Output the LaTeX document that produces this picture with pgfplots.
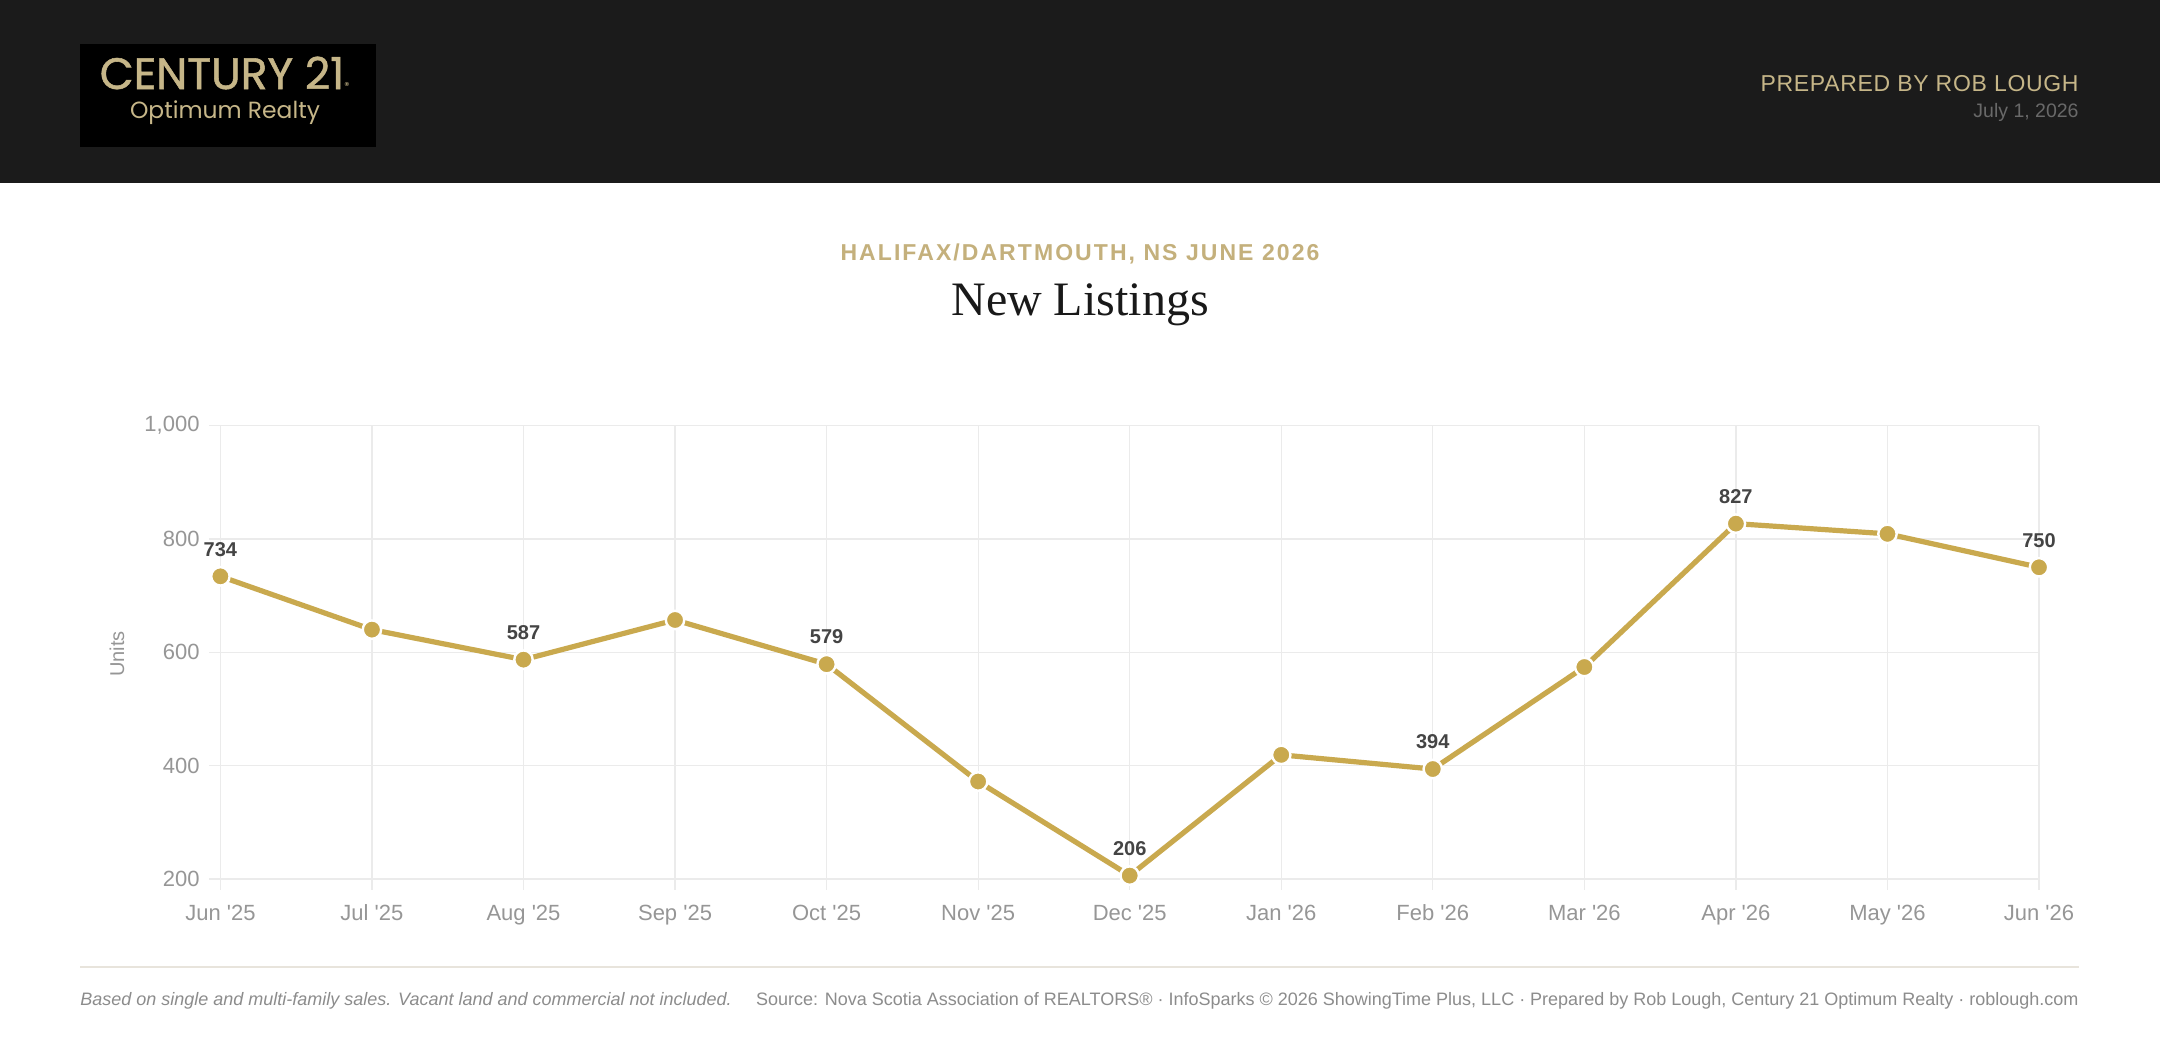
\documentclass[border=0pt]{standalone}
\usepackage{fontspec}
\usepackage{pgfplots}
\pgfplotsset{compat=1.18}
\setmainfont{Liberation Sans}
\newfontfamily\seriffont{Liberation Serif}
\newfontfamily\logofont{Poppins}
\newfontfamily\logofontb[FakeBold=1.2]{Poppins}
\newfontfamily\spacedfont[LetterSpace=9]{Liberation Sans}
\newfontfamily\prepfont[LetterSpace=3]{Liberation Sans}
\definecolor{headerbg}{RGB}{27,27,27}
\definecolor{tan}{RGB}{198,182,136}
\definecolor{subtan}{RGB}{196,176,124}
\definecolor{gold}{RGB}{201,169,78}
\definecolor{gridgray}{RGB}{235,235,235}
\definecolor{tickgray}{RGB}{150,150,150}
\definecolor{labelgray}{RGB}{68,68,68}
\definecolor{footgray}{RGB}{140,140,140}
\definecolor{rulecol}{RGB}{232,228,220}
\definecolor{dategray}{RGB}{105,105,105}
\begin{document}
\begin{tikzpicture}
\useasboundingbox (0,0) rectangle (1080pt,524pt);
\fill[white] (0,0) rectangle (1080pt,524pt);
% header
\fill[headerbg] (0,432.5pt) rectangle (1080pt,524pt);
\fill[black] (40pt,450.5pt) rectangle (188pt,502pt);
\node[inner sep=0, text=tan, font=\logofontb\fontsize{22}{24}\selectfont] at (112.3pt,487.5pt) {CENTURY 21\raisebox{0pt}{\logofont\fontsize{5}{6}\selectfont ®}};
\node[inner sep=0, text=tan, font=\logofont\fontsize{11.7}{13}\selectfont] at (112.5pt,467.6pt) {Optimum Realty};
\node[inner sep=0, anchor=east, text=tan, font=\prepfont\fontsize{11.5}{13}\selectfont] at (1039.5pt,482pt) {PREPARED BY ROB LOUGH};
\node[inner sep=0, anchor=east, text=dategray, font=\fontsize{9.75}{11}\selectfont] at (1039.5pt,467.8pt) {July 1, 2026};
% titles
\node[inner sep=0, text=subtan, font=\spacedfont\bfseries\fontsize{11.5}{13}\selectfont] at (540pt,397pt) {HALIFAX/DARTMOUTH, NS JUNE 2026};
\node[inner sep=0, text=black!90, font=\seriffont\fontsize{24}{27}\selectfont] at (540pt,371.8pt) {New Listings};
\node[inner sep=0, rotate=90, text=tickgray, font=\fontsize{10}{12}\selectfont] at (58.5pt,197pt) {Units};
\begin{axis}[
  at={(110.2pt,84.5pt)}, anchor=south west, scale only axis,
  width=909.3pt, height=226.7pt,
  xmin=0, xmax=12, ymin=200, ymax=1000,
  xtick={0,...,12},
  xticklabels={Jun \textquotesingle25, Jul \textquotesingle25, Aug \textquotesingle25, Sep \textquotesingle25, Oct \textquotesingle25, Nov \textquotesingle25, Dec \textquotesingle25, Jan \textquotesingle26, Feb \textquotesingle26, Mar \textquotesingle26, Apr \textquotesingle26, May \textquotesingle26, Jun \textquotesingle26},
  ytick={200,400,600,800,1000},
  xtick pos=bottom, ytick pos=left,
  grid=major, major grid style={draw=gridgray, line width=0.6pt},
  axis line style={draw=none},
  tick align=outside, major tick length=5.5pt,
  tick style={draw=gridgray, line width=0.6pt},
  ticklabel style={font=\fontsize{11}{13}\selectfont, text=tickgray},
  xticklabel style={yshift=-4pt},
  yticklabel style={xshift=-1.4pt},
  /pgf/number format/assume math mode=true,
  /pgf/number format/1000 sep={,},
  clip=false,
]
\addplot[gold, line width=2.6pt, mark=*, mark size=4.6pt,
  mark options={fill=gold, draw=white, line width=1.2pt}]
  coordinates {(0,734) (1,640) (2,587) (3,657) (4,579) (5,372) (6,206) (7,419) (8,394) (9,574) (10,827) (11,809) (12,750)};
\addplot[draw=none, mark=none, point meta=y,
  nodes near coords,
  nodes near coords style={font=\bfseries\fontsize{10}{12}\selectfont, text=labelgray, anchor=south, yshift=6.5pt}]
  coordinates {(0,734) (2,587) (4,579) (6,206) (8,394) (10,827) (12,750)};
\end{axis}
% footer
\draw[rulecol, line width=0.8pt] (40pt,40.5pt) -- (1039.5pt,40.5pt);
\node[inner sep=0, anchor=west, text=footgray, font=\itshape\fontsize{9}{11}\selectfont] at (40pt,23.5pt) {Based on single and multi-family sales. Vacant land and commercial not included.};
\node[inner sep=0, anchor=east, text=footgray, font=\fontsize{9}{11}\selectfont] at (1039.5pt,23.5pt) {Source: Nova Scotia Association of REALTORS® · InfoSparks © 2026 ShowingTime Plus, LLC · Prepared by Rob Lough, Century 21 Optimum Realty · roblough.com};
\end{tikzpicture}
\end{document}
